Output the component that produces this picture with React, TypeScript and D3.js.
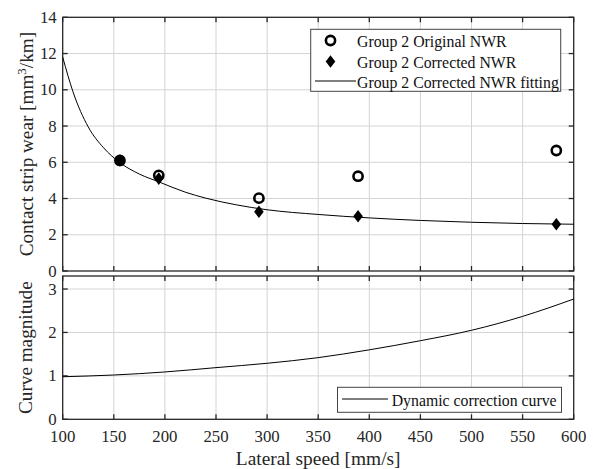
import React from 'react';
import * as d3 from 'd3';

// measured points (lateral speed mm/s -> wear)
const speeds = [156, 194, 292, 389, 583];
const originalNWR = [6.1, 5.28, 4.02, 5.23, 6.65];
const correctedNWR = [6.1, 5.1, 3.27, 3.02, 2.58];

// fitted curve
const fitX = [100, 110, 125, 140, 155, 175, 194, 220, 240, 270, 300, 350, 400, 450, 500, 550, 600];
const fitY = [11.8, 9.9, 7.95, 6.8, 6.02, 5.35, 4.92, 4.35, 4.02, 3.65, 3.38, 3.12, 2.93, 2.79, 2.69, 2.62, 2.58];

// dynamic correction curve
const corrX = [100, 150, 200, 250, 300, 350, 400, 450, 500, 550, 600];
const corrY = [0.98, 1.02, 1.09, 1.19, 1.29, 1.42, 1.6, 1.81, 2.05, 2.37, 2.77];

const xTicks = [100, 150, 200, 250, 300, 350, 400, 450, 500, 550, 600];
const topTicks = [0, 2, 4, 6, 8, 10, 12, 14];
const botTicks = [0, 1, 2, 3];

const W = 596, H = 469;
const left = 62.7, right = 573.7;
const top1 = 17.3, bot1 = 271;
const top2 = 276, bot2 = 419.3;
const font = 'Liberation Serif';
const gridColor = '#d4d4d4';
const axisColor = '#262626';

const x = d3.scaleLinear().domain([100, 600]).range([left, right]);
const y1 = d3.scaleLinear().domain([0, 14]).range([bot1, top1]);
const y2 = d3.scaleLinear().domain([0, 3.3]).range([bot2, top2]);

function diamond(cx: number, cy: number) {
  const w = 4.8, h = 6.3;
  return `M${cx},${cy - h}L${cx + w},${cy}L${cx},${cy + h}L${cx - w},${cy}Z`;
}

function Panel({ y, yTicks, yTop, yBot, showX }: any) {
  const tl = 5;
  return (
    <g>
      {xTicks.slice(1, -1).map(t => (
        <line key={'gx' + t} x1={x(t)} x2={x(t)} y1={yTop} y2={yBot} stroke={gridColor} strokeWidth={1} />
      ))}
      {yTicks.filter((t: number) => y(t) > yTop + 1 && y(t) < yBot - 1).map((t: number) => (
        <line key={'gy' + t} x1={left} x2={right} y1={y(t)} y2={y(t)} stroke={gridColor} strokeWidth={1} />
      ))}
      <rect x={left} y={yTop} width={right - left} height={yBot - yTop} fill="none" stroke={axisColor} strokeWidth={1.3} />
      {xTicks.map(t => (
        <g key={'tx' + t}>
          <line x1={x(t)} x2={x(t)} y1={yBot} y2={yBot - tl} stroke={axisColor} strokeWidth={1.3} />
          <line x1={x(t)} x2={x(t)} y1={yTop} y2={yTop + tl} stroke={axisColor} strokeWidth={1.3} />
        </g>
      ))}
      {yTicks.map((t: number) => (
        <g key={'ty' + t}>
          <line x1={left} x2={left + tl} y1={y(t)} y2={y(t)} stroke={axisColor} strokeWidth={1.3} />
          <line x1={right} x2={right - tl} y1={y(t)} y2={y(t)} stroke={axisColor} strokeWidth={1.3} />
          <text x={left - 6} y={y(t)} dy="0.33em" textAnchor="end" fontSize={16.8} fontFamily={font} fill="#262626">{t}</text>
        </g>
      ))}
      {showX && xTicks.map(t => (
        <text key={'lx' + t} x={x(t)} y={442} textAnchor="middle" fontSize={16.8} fontFamily={font} fill="#262626">{t}</text>
      ))}
    </g>
  );
}

export default function App() {
  const fitLine = d3.line<number>()
    .x((_, i) => x(fitX[i]))
    .y(d => y1(d))
    .curve(d3.curveMonotoneX)(fitY) || '';
  const corrLine = d3.line<number>()
    .x((_, i) => x(corrX[i]))
    .y(d => y2(d))
    .curve(d3.curveMonotoneX)(corrY) || '';

  return (
    <svg width={W} height={H} style={{ position: 'absolute', left: 0, top: 0, background: '#fff', fontFamily: font }}>
      <rect width={W} height={H} fill="#fff" />
      <Panel y={y1} yTicks={topTicks} yTop={top1} yBot={bot1} showX={false} />
      <Panel y={y2} yTicks={botTicks} yTop={top2} yBot={bot2} showX={true} />

      <path d={fitLine} fill="none" stroke="#000" strokeWidth={1} />
      {speeds.map((s, i) => (
        <circle key={'o' + i} cx={x(s)} cy={y1(originalNWR[i])} r={4.6} fill="none" stroke="#000" strokeWidth={2.6} />
      ))}
      {speeds.map((s, i) => (
        <path key={'d' + i} d={diamond(x(s), y1(correctedNWR[i]))} fill="#000" />
      ))}

      <path d={corrLine} fill="none" stroke="#000" strokeWidth={1} />

      {/* top legend */}
      <g fontFamily={font} fontSize={15.8} fill="#111">
        <rect x={310.7} y={29.3} width={250} height={62} fill="#fff" stroke="#444" strokeWidth={1} />
        <circle cx={330.5} cy={40.5} r={4.6} fill="none" stroke="#000" strokeWidth={2.6} />
        <text x={357} y={46.5}>Group 2 Original NWR</text>
        <path d={diamond(330.5, 61.5)} fill="#000" />
        <text x={357} y={67.5}>Group 2 Corrected NWR</text>
        <line x1={315} x2={356} y1={81} y2={81} stroke="#000" strokeWidth={1} />
        <text x={357} y={88}>Group 2 Corrected NWR fitting</text>
      </g>

      {/* bottom legend */}
      <g fontFamily={font} fontSize={15.8} fill="#111">
        <rect x={337.5} y={387.3} width={224} height={25} fill="#fff" stroke="#444" strokeWidth={1} />
        <line x1={342} x2={388} y1={399} y2={399} stroke="#000" strokeWidth={1} />
        <text x={391.7} y={405.5}>Dynamic correction curve</text>
      </g>

      <text transform={`translate(33,${(top1 + bot1) / 2}) rotate(-90)`} textAnchor="middle" fontSize={19.2} fontFamily={font} fill="#262626">
        Contact strip wear [mm<tspan dy={-7} fontSize={13}>3</tspan><tspan dy={7}>/km]</tspan>
      </text>
      <text transform={`translate(32,${(top2 + bot2) / 2}) rotate(-90)`} textAnchor="middle" fontSize={19.2} fontFamily={font} fill="#262626">
        Curve magnitude
      </text>
      <text x={(left + right) / 2} y={464.5} textAnchor="middle" fontSize={19.4} fontFamily={font} fill="#262626">
        Lateral speed [mm/s]
      </text>
    </svg>
  );
}
